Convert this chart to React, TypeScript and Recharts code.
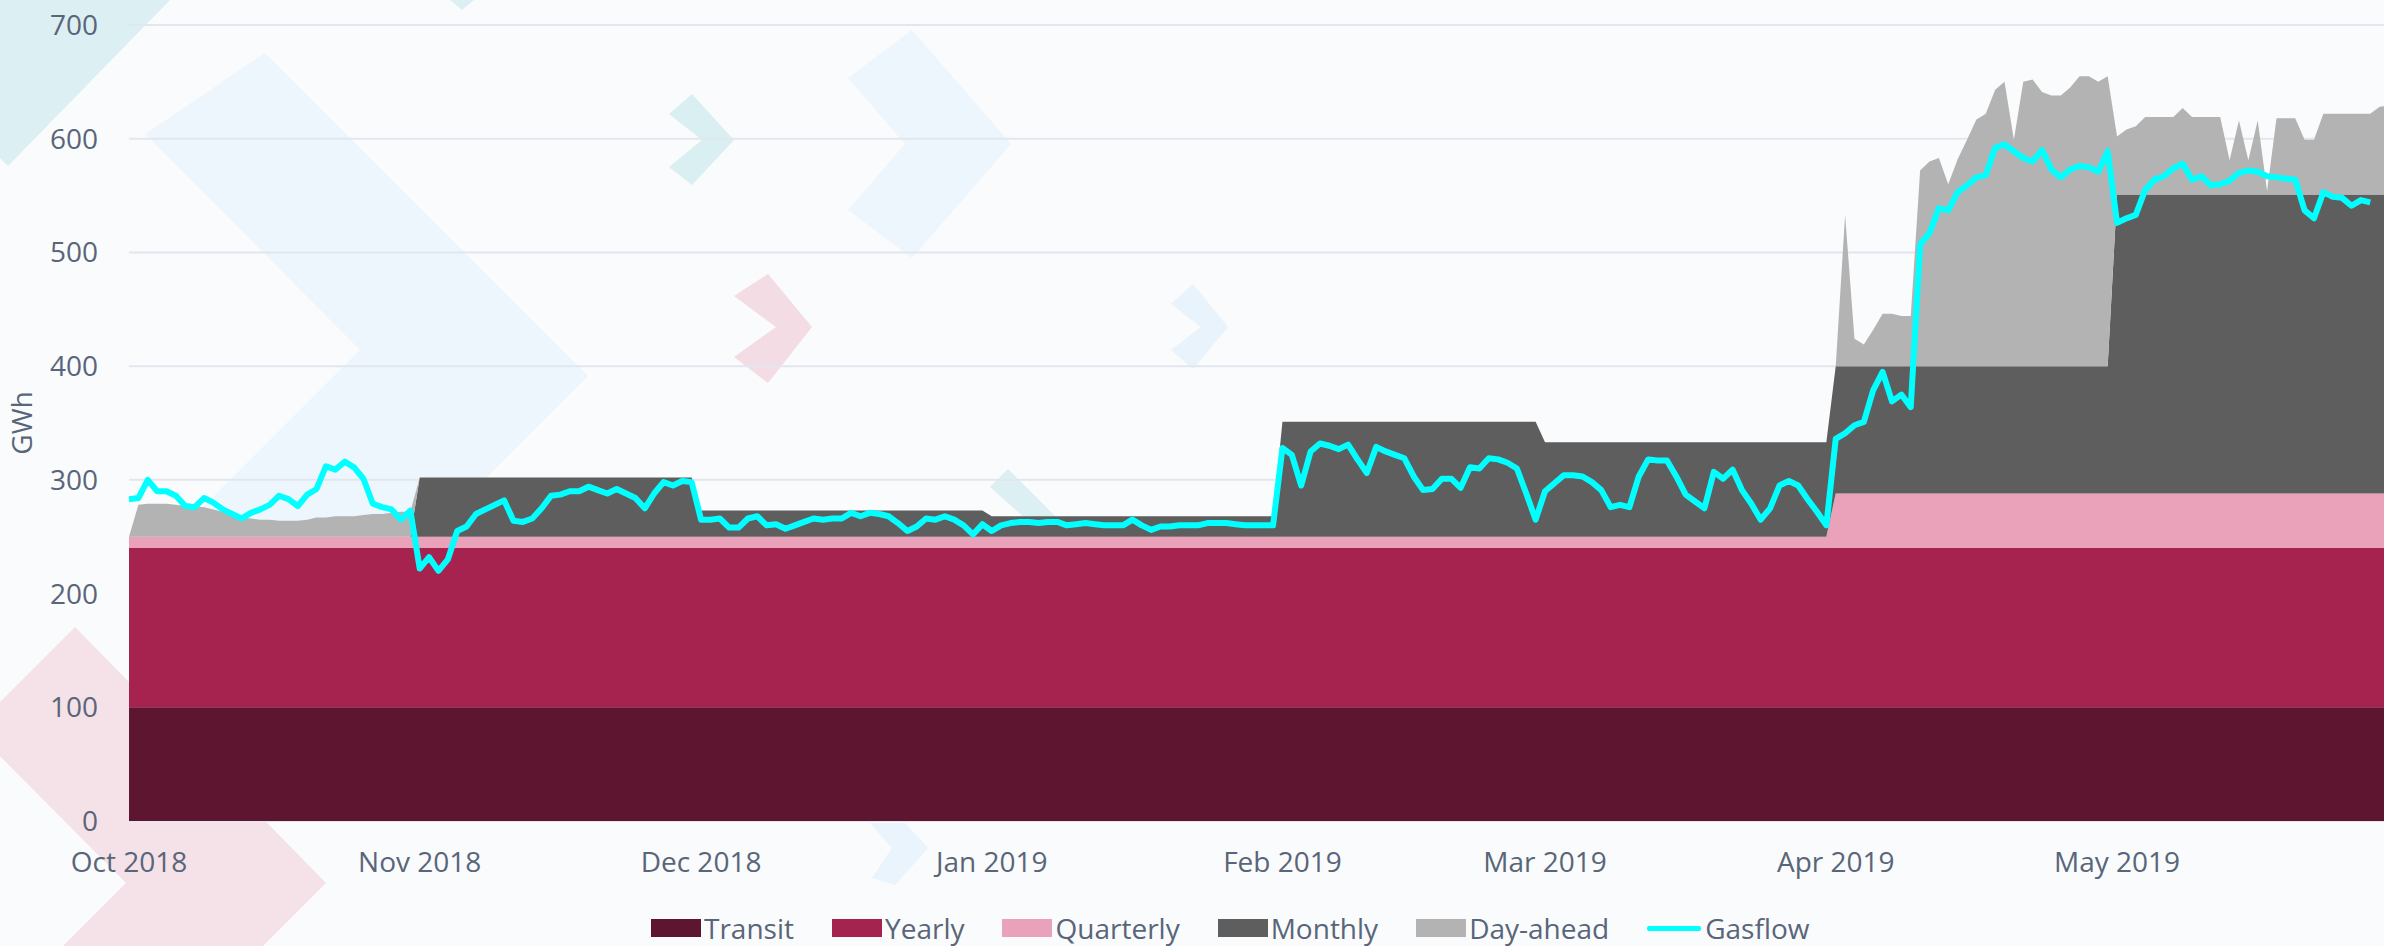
import React from 'react';
import { ComposedChart, Area, Line, XAxis, YAxis, CartesianGrid, Legend } from 'recharts';

// ---- axis categories ----
const monthStarts = [0, 31, 61, 92, 123, 151, 182, 212]; // day index of the 1st of each month (day 0 = 1 Oct 2018)
const monthLabels = ['Oct 2018', 'Nov 2018', 'Dec 2018', 'Jan 2019', 'Feb 2019', 'Mar 2019', 'Apr 2019', 'May 2019'];
const yTicks = [0, 100, 200, 300, 400, 500, 600, 700];

// ---- contract levels per month (GWh) ----
const transitByMonth = [100, 100, 100, 100, 100, 100, 100, 100];
const yearlyByMonth = [140, 140, 140, 140, 140, 140, 140, 140];
const quarterlyByMonth = [10, 10, 10, 10, 10, 10, 48, 48];
const monthlyByMonth = [0, 52, 23, 18, 101, 83, 112, 263];

// ---- daily day-ahead volumes (GWh), days 0..241 ----
const dayAhead = [
  0, 28, 29, 29, 29, 28, 27, 27, 26, 24,
  22, 18, 17, 16, 15, 15, 14, 14, 14, 15,
  17, 17, 18, 18, 18, 19, 20, 20, 21, 22,
  22, 0, 0, 0, 0, 0, 0, 0, 0, 0,
  0, 0, 0, 0, 0, 0, 0, 0, 0, 0,
  0, 0, 0, 0, 0, 0, 0, 0, 0, 0,
  0, 0, 0, 0, 0, 0, 0, 0, 0, 0,
  0, 0, 0, 0, 0, 0, 0, 0, 0, 0,
  0, 0, 0, 0, 0, 0, 0, 0, 0, 0,
  0, 0, 0, 0, 0, 0, 0, 0, 0, 0,
  0, 0, 0, 0, 0, 0, 0, 0, 0, 0,
  0, 0, 0, 0, 0, 0, 0, 0, 0, 0,
  0, 0, 0, 0, 0, 0, 0, 0, 0, 0,
  0, 0, 0, 0, 0, 0, 0, 0, 0, 0,
  0, 0, 0, 0, 0, 0, 0, 0, 0, 0,
  0, 0, 0, 0, 0, 0, 0, 0, 0, 0,
  0, 0, 0, 0, 0, 0, 0, 0, 0, 0,
  0, 0, 0, 0, 0, 0, 0, 0, 0, 0,
  0, 0, 0, 133, 24, 19, 32, 46, 46, 44,
  44, 172, 180, 183, 160, 182, 199, 217, 222, 243,
  250, 199, 250, 252, 241, 238, 238, 245, 255, 255,
  250, 255, 51, 57, 60, 68, 68, 68, 68, 76,
  68, 68, 68, 68, 30, 65, 30, 65, 3, 67,
  67, 67, 48, 48, 71, 71, 71, 71, 71, 71,
  77, 78,
];

// ---- daily gas flow (GWh), days 0..239 ----
const gasflow = [
  283, 284, 300, 290, 290, 286, 277, 276, 284, 280,
  274, 270, 266, 271, 274, 278, 286, 283, 277, 287,
  292, 312, 309, 316, 311, 301, 279, 276, 274, 265,
  273, 222, 232, 220, 230, 255, 259, 270, 274, 278,
  282, 264, 263, 266, 275, 286, 287, 290, 290, 294,
  291, 288, 292, 288, 284, 275, 288, 298, 295, 299,
  298, 265, 265, 266, 258, 258, 266, 268, 260, 261,
  257, 260, 263, 266, 265, 266, 266, 271, 268, 271,
  270, 268, 262, 255, 259, 266, 265, 268, 265, 260,
  252, 261, 255, 260, 262, 263, 263, 262, 263, 263,
  260, 261, 262, 261, 260, 260, 260, 265, 260, 256,
  259, 259, 260, 260, 260, 262, 262, 262, 261, 260,
  260, 260, 260, 328, 322, 295, 325, 332, 330, 327,
  331, 318, 306, 329, 325, 322, 319, 303, 291, 292,
  301, 301, 293, 311, 310, 319, 318, 315, 310, 288,
  265, 290, 297, 304, 304, 303, 298, 291, 276, 278,
  276, 303, 318, 317, 317, 303, 287, 281, 275, 307,
  301, 309, 291, 279, 265, 275, 295, 299, 295, 283,
  272, 260, 336, 341, 348, 351, 379, 395, 369, 375,
  364, 507, 517, 539, 537, 553, 559, 566, 568, 592,
  595, 589, 583, 580, 590, 573, 566, 573, 576, 575,
  571, 589, 526, 530, 533, 555, 564, 567, 574, 578,
  564, 567, 559, 560, 563, 570, 572, 571, 567, 566,
  565, 564, 537, 530, 553, 549, 548, 541, 546, 544,
];

const seriesNames = ['Transit', 'Yearly', 'Quarterly', 'Monthly', 'Day-ahead', 'Gasflow'];
const seriesColors = ['#5e1530', '#a6224f', '#eaa2ba', '#5e5e5e', '#b3b3b3', '#00ffff'];

const monthOf = (d: number) => {
  let m = 0;
  for (let i = 0; i < monthStarts.length; i++) if (d >= monthStarts[i]) m = i;
  return m;
};

const data = dayAhead.map((da, d) => {
  const m = monthOf(d);
  return {
    day: d,
    transit: transitByMonth[m],
    yearly: yearlyByMonth[m],
    quarterly: quarterlyByMonth[m],
    monthly: monthlyByMonth[m],
    dayAhead: da,
    gasflow: d < gasflow.length ? gasflow[d] : null,
  };
});

const TEXT = '#596579';

const renderLegend = () => (
  <div
    style={{
      height: 40,
      boxSizing: 'border-box',
      paddingTop: 4,
      paddingLeft: 651,
      display: 'flex',
      alignItems: 'center',
      fontSize: 28,
      lineHeight: '30px',
      color: TEXT,
      whiteSpace: 'nowrap',
    }}
  >
    {seriesNames.map((n, i) => (
      <div key={n} style={{ display: 'flex', alignItems: 'center', marginRight: 38 }}>
        {i < 5 ? (
          <div style={{ width: 50, height: 18, background: seriesColors[i], marginRight: 3 }} />
        ) : (
          <div style={{ width: 54, height: 5, background: seriesColors[i], marginRight: 4, borderRadius: 2 }} />
        )}
        <span>{n}</span>
      </div>
    ))}
  </div>
);

const Decor = () => (
  <svg width={2384} height={946} style={{ position: 'absolute', left: 0, top: 0 }}>
    <polygon points="0,0 170,0 8,166 0,158" fill="#dcf0f3" />
    <polygon points="450,0 474,0 462,10" fill="#dcf0f3" />
    <polygon points="145,134 265,53 588,376 327,637 200,510 360,350" fill="#eef6fd" />
    <polygon points="848,78 912,30 1011,144 912,258 848,210 905,144" fill="#eef6fd" />
    <polygon points="669,114 692,94 734,140 692,185 669,167 702,140" fill="#d9eff2" />
    <polygon points="734,296 768,274 812,327 768,383 734,357 776,327" fill="#f3dce3" />
    <polygon points="1171,304 1193,284 1228,327 1193,369 1171,350 1201,327" fill="#e8f3fc" />
    <polygon points="990,487 1008,469 1056,517 1038,530" fill="#dcf0f3" />
    <polygon points="75,627 326,883 263,946 63,946 126,883 -27,729" fill="#f4e2e8" />
    <polygon points="870,823 905,823 928,848 895,885 872,878 892,848" fill="#eaf4fd" />
  </svg>
);

export default function App() {
  return (
    <div
      style={{
        position: 'absolute',
        left: 0,
        top: 0,
        width: 2384,
        height: 946,
        overflow: 'hidden',
        background: '#fafbfc',
        fontFamily: '"Open Sans", sans-serif',
      }}
    >
      <Decor />
      <div style={{ position: 'absolute', left: 0, top: 0 }}>
        <ComposedChart width={2389} height={946} data={data} margin={{ top: 25, right: 0, bottom: 0, left: 0 }}>
          <CartesianGrid vertical={false} stroke="#e2e6ee" strokeWidth={2} />
          <XAxis
            dataKey="day"
            type="number"
            domain={[0, 241]}
            ticks={monthStarts}
            interval={0}
            tickFormatter={(v: number) => monthLabels[monthStarts.indexOf(v)]}
            axisLine={false}
            tickLine={false}
            tickSize={0}
            tickMargin={31}
            height={85}
            tick={{ fill: TEXT, fontSize: 28 }}
          />
          <YAxis
            type="number"
            domain={[0, 700]}
            ticks={yTicks}
            interval={0}
            width={129}
            axisLine={false}
            tickLine={false}
            tickSize={0}
            tickMargin={31}
            tick={{ fill: TEXT, fontSize: 28 }}
            label={{
              value: 'GWh',
              angle: -90,
              position: 'insideLeft',
              offset: 22,
              style: { textAnchor: 'middle', fill: TEXT, fontSize: 28 },
            }}
          />
          <Area type="linear" dataKey="transit" name={seriesNames[0]} stackId="s" fill={seriesColors[0]} fillOpacity={1} stroke="none" isAnimationActive={false} />
          <Area type="linear" dataKey="yearly" name={seriesNames[1]} stackId="s" fill={seriesColors[1]} fillOpacity={1} stroke="none" isAnimationActive={false} />
          <Area type="linear" dataKey="quarterly" name={seriesNames[2]} stackId="s" fill={seriesColors[2]} fillOpacity={1} stroke="none" isAnimationActive={false} />
          <Area type="linear" dataKey="monthly" name={seriesNames[3]} stackId="s" fill={seriesColors[3]} fillOpacity={1} stroke="none" isAnimationActive={false} />
          <Area type="linear" dataKey="dayAhead" name={seriesNames[4]} stackId="s" fill={seriesColors[4]} fillOpacity={1} stroke="none" isAnimationActive={false} />
          <Line type="linear" dataKey="gasflow" name={seriesNames[5]} stroke={seriesColors[5]} strokeWidth={6} strokeLinejoin="round" dot={false} activeDot={false} isAnimationActive={false} />
          <Legend verticalAlign="bottom" height={40} content={renderLegend} />
        </ComposedChart>
      </div>
    </div>
  );
}
